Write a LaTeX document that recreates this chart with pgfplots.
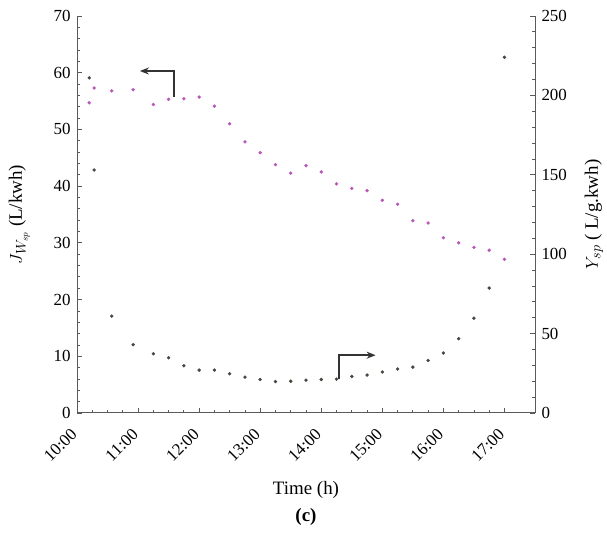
\documentclass[border=0pt]{standalone}
\usepackage{pgfplots}
\pgfplotsset{compat=1.18}
\usepackage{fontspec}
\setmainfont{Liberation Serif}
\usetikzlibrary{arrows.meta}
\definecolor{magser}{RGB}{185,85,185}
\definecolor{darkser}{RGB}{70,70,60}
\definecolor{axgray}{RGB}{90,90,90}
\pgfplotstableread{
t J
10.20 54.7
10.28 57.3
10.57 56.8
10.92 57.0
11.25 54.4
11.50 55.3
11.75 55.4
12.00 55.7
12.25 54.1
12.50 51.0
12.75 47.8
13.00 45.9
13.25 43.8
13.50 42.3
13.75 43.6
14.00 42.5
14.25 40.4
14.50 39.6
14.75 39.2
15.00 37.5
15.25 36.8
15.50 33.9
15.75 33.5
16.00 30.9
16.25 30.0
16.50 29.2
16.75 28.7
17.00 27.1
}\jdata
\pgfplotstableread{
t Y
10.20 211
10.28 153
10.57 61
10.92 43
11.25 37.3
11.50 34.8
11.75 29.7
12.00 27.0
12.25 27.0
12.50 24.7
12.75 22.6
13.00 21.1
13.25 19.8
13.50 20.0
13.75 20.7
14.00 21.1
14.25 21.3
14.50 23.0
14.75 23.9
15.00 25.8
15.25 27.7
15.50 28.9
15.75 33.1
16.00 37.8
16.25 46.8
16.50 59.7
16.75 78.7
17.00 224
}\ydata
\begin{document}
\begin{tikzpicture}[font=\fontsize{18}{20}\selectfont]
\pgfplotsset{every axis/.append style={
  scale only axis, width=458bp, height=397bp,
  xmin=10, xmax=17.5,
  tick style={axgray, line width=0.8pt},
  major tick length=5bp, minor tick length=3bp,
  axis line style={axgray, line width=1pt},
  tick align=inside,
  /pgf/number format/assume math mode=true,
  tick label style={font=\fontsize{17}{19}\selectfont},
  label style={font=\fontsize{19}{22}\selectfont},
}}
\begin{axis}[
  axis y line*=left, axis x line*=bottom,
  ymin=0, ymax=70, ytick={0,10,...,70}, minor y tick num=4,
  xtick={10,...,17},
  xticklabels={10:00,11:00,12:00,13:00,14:00,15:00,16:00,17:00},
  minor x tick num=3,
  xticklabel style={font=\fontsize{17}{19}\selectfont, yshift=-13bp, xshift=-7bp, rotate=45, anchor=north east, inner sep=1pt},
  yticklabel style={xshift=-3bp},
  ylabel={$J_{W_{sp}}$ (L/kwh)},
  xlabel={Time (h)\\[5pt]\textbf{(c)}},
  xlabel style={align=center, yshift=-13bp},
  ylabel shift=17bp,
]
\addplot[only marks, mark=*, mark size=1.5bp, color=magser] table[x=t, y=J] {\jdata};
\draw[line width=1.4bp, black!80, -{Stealth[length=9bp, width=7bp]}] (axis cs:11.59,55.8) -- (axis cs:11.59,60.3) -- (axis cs:11.03,60.3);
\coordinate (bl) at (rel axis cs:0,0);
\coordinate (tr) at (rel axis cs:1,1);
\end{axis}
\begin{axis}[
  axis y line*=right, axis x line=none,
  ymin=0, ymax=250, ytick={0,50,...,250}, minor y tick num=4,
  yticklabel style={xshift=3bp},
  ylabel={$Y_{sp}$ ( L/g.kwh)},
  ylabel shift=11bp,
]
\addplot[only marks, mark=*, mark size=1.5bp, color=darkser] table[x=t, y=Y] {\ydata};
\draw[line width=1.4bp, black!80, -{Stealth[length=9bp, width=7bp]}] (axis cs:14.29,21.2) -- (axis cs:14.29,36.4) -- (axis cs:14.89,36.4);
\end{axis}
\pgfresetboundingbox
\path ([xshift=-77bp, yshift=-120bp]bl) rectangle ([xshift=72bp, yshift=16bp]tr);
\end{tikzpicture}
\end{document}
